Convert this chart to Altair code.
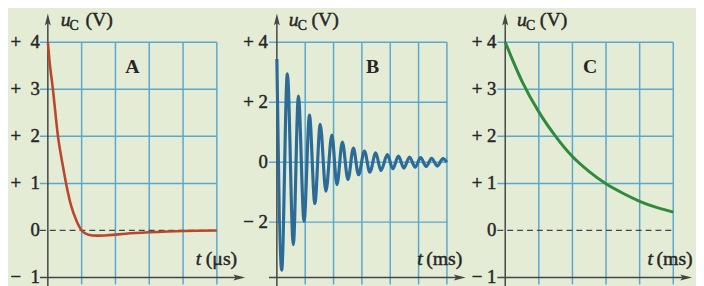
import altair as alt
import pandas as pd

# ---------------- values ----------------
# Panel A : u_C (V) versus t (µs)
a_t = [0, 0.05, 0.15, 0.30, 0.45, 0.54, 0.68, 0.85, 1.00, 1.20, 1.45, 1.80, 2.30, 3.00, 4.00, 5.00]
a_u = [4.0, 3.6, 3.0, 2.0, 1.35, 1.0, 0.55, 0.2, 0.0, -0.09, -0.11, -0.10, -0.07, -0.04, -0.01, 0.0]

# Panel B : damped oscillation, extrema (t in ms)
b_t = [0, 0.17, 0.37, 0.58, 0.76, 0.96, 1.15, 1.34, 1.53, 1.73, 1.94, 2.12, 2.31, 2.51,
       2.70, 2.88, 3.09, 3.28, 3.49, 3.67, 3.90, 4.09, 4.29, 4.48, 4.68, 4.88, 5.07,
       5.27, 5.46, 5.66, 5.86, 6.00]
b_u = [3.44, -3.60, 2.95, -2.75, 2.20, -1.97, 1.57, -1.38, 1.26, -0.97, 0.90, -0.75,
       0.67, -0.58, 0.47, -0.42, 0.37, -0.33, 0.31, -0.28, 0.25, -0.22, 0.20, -0.20,
       0.17, -0.17, 0.15, -0.15, 0.13, -0.13, 0.12, 0.0]

# Panel C : slow decay (t in ms)
c_t = [0, 0.5, 1.0, 1.5, 2.0, 2.5, 3.0, 3.5, 4.0, 4.5, 5.0]
c_u = [4.0, 3.17, 2.52, 2.0, 1.57, 1.25, 0.99, 0.79, 0.62, 0.49, 0.39]

# axis ticks / labels / grid
a_ticks = [4, 3, 2, 1, 0, -1]
a_labels = ["+\u00a0\u00a04", "+\u00a0\u00a03", "+\u00a0\u00a02", "+\u00a0\u00a01", "0", "\u2212\u00a0\u00a01"]
b_ticks = [4, 2, 0, -2]
b_labels = ["+\u00a04", "+\u00a02", "0", "\u2212\u00a02"]
c_ticks = [4, 3, 2, 1, 0, -1]
c_labels = ["+\u00a04", "+\u00a03", "+\u00a02", "+\u00a01", "0", "\u2212\u00a01"]

a_hgrid = [4, 3, 2, 1]
b_hgrid = [4, 2, 0, -2]
c_hgrid = [4, 3, 2, 1]
a_vgrid = [1, 2, 3, 4, 5]
b_vgrid = [1, 2, 3, 4, 5, 6]
c_vgrid = [1, 2, 3, 4, 5]

letters = ["A", "B", "C"]
units = ["(\u03bcs)", "(ms)", "(ms)"]

# ---------------- styling / layout ----------------
FONT = "Liberation Serif"
BG = "#e5ecd5"
GRID = "#5aa7cf"
AXIS = "#454545"
TEXT = "#262626"
FS = 19
TS = 20
INK = dict(stroke=TEXT, strokeWidth=0.45)   # heavier "printed" look
H_IMG_TOP, H_IMG_BOT = 8, 286   # view spans these image rows

geoms = [
    dict(left=8, right=240, x0=48.3, ppt=34.2, y4=39, ppv=47.6, axis_px=277, tip=248,
         gap=8, u_dx=[13, 22, 38], tstart=198, ustart=208, letter_t=2.5, nmax=5),
    dict(left=240, right=472, x0=280, ppt=28.67, y4=39, ppv=30.33, axis_px=277, tip=471,
         gap=9, u_dx=[12, 21, 35], tstart=422, ustart=431, letter_t=3.38, nmax=6),
    dict(left=472, right=704, x0=511, ppt=34.0, y4=39, ppv=47.6, axis_px=277, tip=700,
         gap=9, u_dx=[12, 21, 35], tstart=655, ustart=664, letter_t=2.53, nmax=5),
]

XARROW = "M0,0 L-2,-0.5 L-1.6,0 L-2,0.5 Z"
YARROW = "M0,0 L-0.5,2 L0,1.6 L0.5,2 Z"


def panel(g, t, u, color, sw, ticks, labels, hgrid, vgrid, dashed0, letter, unit):
    W = g["right"] - g["left"]
    H = H_IMG_BOT - H_IMG_TOP
    ppt, ppv = g["ppt"], g["ppv"]
    xdom = [(g["left"] - g["x0"]) / ppt, (g["right"] - g["x0"]) / ppt]
    ydom = [4 - (H_IMG_BOT - g["y4"]) / ppv, 4 + (g["y4"] - H_IMG_TOP) / ppv]
    xs = alt.Scale(domain=xdom, nice=False, zero=False)
    ys = alt.Scale(domain=ydom, nice=False, zero=False)

    def X(f):
        return alt.X(f, type="quantitative", scale=xs, axis=None)

    def Y(f):
        return alt.Y(f, type="quantitative", scale=ys, axis=None)

    axis_v = 4 - (g["axis_px"] - g["y4"]) / ppv
    tick_t = -8 / ppt
    grid_bot = 4 - (g["axis_px"] + 7 - g["y4"]) / ppv
    tip_t = (g["tip"] - g["x0"]) / ppt
    ytip_v = 4 + (g["y4"] - 10) / ppv
    nmax = g["nmax"]

    layers = []
    vg = pd.DataFrame({"x": vgrid, "y0": grid_bot, "y1": 4})
    layers.append(alt.Chart(vg).mark_rule(color=GRID, strokeWidth=1.5).encode(
        x=X("x"), y=Y("y0"), y2=alt.Y2("y1")))
    hg = pd.DataFrame({"y": hgrid, "x0": tick_t, "x1": nmax})
    layers.append(alt.Chart(hg).mark_rule(color=GRID, strokeWidth=1.5).encode(
        y=Y("y"), x=X("x0"), x2=alt.X2("x1")))
    if dashed0:
        z = pd.DataFrame({"y": [0], "x0": [tick_t], "x1": [nmax]})
        layers.append(alt.Chart(z).mark_rule(color=AXIS, strokeWidth=1.3, strokeDash=[6, 4]).encode(
            y=Y("y"), x=X("x0"), x2=alt.X2("x1")))
    # axes
    xa = pd.DataFrame({"y": [axis_v], "x0": [tick_t], "x1": [tip_t - 6 / ppt]})
    layers.append(alt.Chart(xa).mark_rule(color=AXIS, strokeWidth=1.5).encode(
        y=Y("y"), x=X("x0"), x2=alt.X2("x1")))
    ya = pd.DataFrame({"x": [0], "y0": [ydom[0]], "y1": [ytip_v - 6 / ppv]})
    layers.append(alt.Chart(ya).mark_rule(color=AXIS, strokeWidth=1.5).encode(
        x=X("x"), y=Y("y0"), y2=alt.Y2("y1")))
    layers.append(alt.Chart(pd.DataFrame({"x": [tip_t], "y": [axis_v]})).mark_point(
        shape=XARROW, size=144, filled=True, color=AXIS, opacity=1, strokeWidth=0).encode(
        x=X("x"), y=Y("y")))
    layers.append(alt.Chart(pd.DataFrame({"x": [0], "y": [ytip_v]})).mark_point(
        shape=YARROW, size=144, filled=True, color=AXIS, opacity=1, strokeWidth=0).encode(
        x=X("x"), y=Y("y")))
    # curve
    cd = pd.DataFrame({"t": t, "u": u})
    layers.append(alt.Chart(cd).mark_line(color=color, strokeWidth=sw, interpolate="monotone").encode(
        x=X("t"), y=Y("u")))
    # tick labels
    tl = pd.DataFrame({"y": ticks, "lab": labels, "x": 0})
    layers.append(alt.Chart(tl).mark_text(align="right", baseline="middle", dx=-g["gap"], dy=0,
                                          font=FONT, fontSize=FS, color=TEXT, **INK).encode(
        x=X("x"), y=Y("y"), text="lab:N"))
    # y title  u_C (V)
    one = pd.DataFrame({"x": [0], "y": [4]})
    layers.append(alt.Chart(one).mark_text(text="u", align="left", baseline="alphabetic",
                                           dx=g["u_dx"][0], dy=-16, font=FONT, fontSize=TS,
                                           fontStyle="italic", color=TEXT, **INK).encode(x=X("x"), y=Y("y")))
    layers.append(alt.Chart(one).mark_text(text="C", align="left", baseline="alphabetic",
                                           dx=g["u_dx"][1], dy=-12, font=FONT, fontSize=14,
                                           color=TEXT, **INK).encode(x=X("x"), y=Y("y")))
    layers.append(alt.Chart(one).mark_text(text="(V)", align="left", baseline="alphabetic",
                                           dx=g["u_dx"][2], dy=-16, font=FONT, fontSize=TS,
                                           color=TEXT, **INK).encode(x=X("x"), y=Y("y")))
    # x title  t (unit)
    xt = pd.DataFrame({"x": [(g["tstart"] - g["x0"]) / ppt], "y": [axis_v]})
    xu = pd.DataFrame({"x": [(g["ustart"] - g["x0"]) / ppt], "y": [axis_v]})
    layers.append(alt.Chart(xt).mark_text(text="t", align="left", baseline="alphabetic", dy=-13,
                                          font=FONT, fontSize=TS, fontStyle="italic", color=TEXT,
                                          **INK).encode(x=X("x"), y=Y("y")))
    layers.append(alt.Chart(xu).mark_text(text=unit, align="left", baseline="alphabetic", dy=-13,
                                          font=FONT, fontSize=TS, color=TEXT, **INK).encode(
        x=X("x"), y=Y("y")))
    # panel letter
    lt = pd.DataFrame({"x": [g["letter_t"]], "y": [4]})
    layers.append(alt.Chart(lt).mark_text(text=letter, align="center", baseline="alphabetic", dy=31,
                                          font=FONT, fontSize=20, fontWeight="bold", color=TEXT).encode(
        x=X("x"), y=Y("y")))
    return alt.layer(*layers).properties(width=W, height=H)


pa = panel(geoms[0], a_t, a_u, "#b8472c", 2.6, a_ticks, a_labels, a_hgrid, a_vgrid, True, letters[0], units[0])
pb = panel(geoms[1], b_t, b_u, "#2c6b98", 3.2, b_ticks, b_labels, b_hgrid, b_vgrid, False, letters[1], units[1])
pc = panel(geoms[2], c_t, c_u, "#2f8a3b", 3.0, c_ticks, c_labels, c_hgrid, c_vgrid, True, letters[2], units[2])

chart = alt.hconcat(pa, pb, pc, spacing=0, bounds="flush").properties(
    padding=0, background=BG
).configure_view(stroke=None)

chart.save("out.html", embed_options={"renderer": "svg", "actions": False})
